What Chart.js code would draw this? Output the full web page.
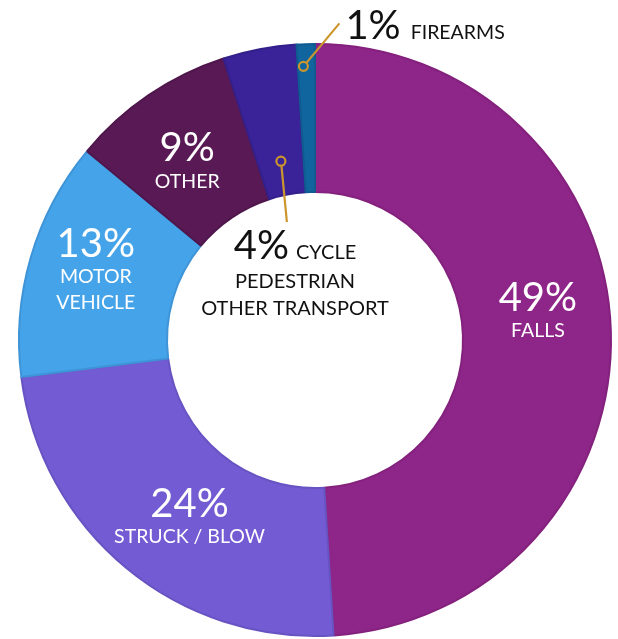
<!DOCTYPE html>
<html>
<head>
<meta charset="utf-8">
<script src="https://cdn.jsdelivr.net/npm/chart.js@4/dist/chart.umd.min.js"></script>
<style>
html,body{margin:0;padding:0;background:#fff;}
#wrap{width:618px;height:639px;position:relative;}
</style>
</head>
<body>
<div id="wrap"><canvas id="c" width="618" height="639"></canvas></div>
<script>
const categories = ["FALLS", "STRUCK / BLOW", "MOTOR VEHICLE", "OTHER", "CYCLE PEDESTRIAN OTHER TRANSPORT", "FIREARMS"];
const values = [49, 24, 13, 9, 4, 1];
const percentLabels = ["49%", "24%", "13%", "9%", "4%", "1%"];
const labelLines = [["FALLS"], ["STRUCK / BLOW"], ["MOTOR", "VEHICLE"], ["OTHER"], ["CYCLE", "PEDESTRIAN", "OTHER TRANSPORT"], ["FIREARMS"]];

const fills = ["#8e2588", "#725bd3", "#45a3e9", "#581955", "#3a2299", "#11659f"];
const borders = ["#83217d", "#6853c2", "#3e94d6", "#4f164c", "#33208a", "#0f5b90"];

const FONT = "Lato, 'Open Sans', sans-serif";

// label placement styles (relative to each slice's mid-angle anchor)
const labelStyle = [
  {mode:"inside", r:0.5, dx:1, pctDy:-22, lineDy:[4]},
  {mode:"inside", r:0.5, dx:16, pctDy:6, lineDy:[32]},
  {mode:"inside", r:0.5, dx:-6, pctDy:-21, lineDy:[5, 31]},
  {mode:"inside", r:0.5, dx:-3, pctDy:5, lineDy:[32]},
  {mode:"center"},
  {mode:"top"}
];

const labelPlugin = {
  id: "sliceLabels",
  afterDatasetsDraw(chart) {
    const ctx = chart.ctx;
    const meta = chart.getDatasetMeta(0);
    const gold = "#cc962c";
    meta.data.forEach((arc, i) => {
      const p = arc.getProps(["x","y","startAngle","endAngle","innerRadius","outerRadius"], true);
      const mid = (p.startAngle + p.endAngle) / 2;
      const st = labelStyle[i];
      ctx.save();
      if (st.mode === "inside") {
        const rr = p.innerRadius + (p.outerRadius - p.innerRadius) * st.r;
        const ax = p.x + Math.cos(mid) * rr + st.dx;
        const ay = p.y + Math.sin(mid) * rr;
        ctx.fillStyle = "#ffffff";
        ctx.textAlign = "center";
        ctx.textBaseline = "alphabetic";
        ctx.font = "400 40px " + FONT;
        ctx.fillText(percentLabels[i], ax, ay + st.pctDy);
        ctx.font = "400 19.5px " + FONT;
        labelLines[i].forEach((t, k) => ctx.fillText(t, ax, ay + st.lineDy[k]));
      } else if (st.mode === "center") {
        const rr = p.outerRadius * 0.615;
        const dx = p.x + Math.cos(mid) * rr;
        const dy = p.y + Math.sin(mid) * rr;
        ctx.strokeStyle = gold; ctx.lineWidth = 2.2;
        ctx.beginPath(); ctx.moveTo(dx + 0.6, dy + 5); ctx.lineTo(dx + 6, p.y - 118); ctx.stroke();
        ctx.beginPath(); ctx.arc(dx, dy, 4.5, 0, Math.PI*2); ctx.stroke();
        const cx = p.x - 20;
        ctx.fillStyle = "#111111";
        ctx.textBaseline = "alphabetic";
        ctx.font = "400 40px " + FONT;
        const pw = ctx.measureText(percentLabels[i]).width;
        ctx.font = "400 20px " + FONT;
        const lw = ctx.measureText(labelLines[i][0]).width;
        const gap = 7;
        const total = pw + gap + lw;
        const left = cx - total / 2;
        ctx.textAlign = "left";
        ctx.font = "400 40px " + FONT;
        ctx.fillText(percentLabels[i], left, p.y - 81);
        ctx.font = "400 20px " + FONT;
        ctx.fillText(labelLines[i][0], left + pw + gap, p.y - 81);
        ctx.textAlign = "center";
        ctx.fillText(labelLines[i][1], cx, p.y - 52);
        ctx.fillText(labelLines[i][2], cx, p.y - 25);
      } else if (st.mode === "top") {
        const rr = p.outerRadius * 0.925;
        const dx = p.x + Math.cos(mid) * rr - 3;
        const dy = p.y + Math.sin(mid) * rr;
        ctx.strokeStyle = gold; ctx.lineWidth = 2.2;
        ctx.beginPath(); ctx.moveTo(dx + 3, dy - 3.5); ctx.lineTo(dx + 36, dy - 43); ctx.stroke();
        ctx.beginPath(); ctx.arc(dx, dy, 4.5, 0, Math.PI*2); ctx.stroke();
        const base = dy - 27;
        ctx.fillStyle = "#111111";
        ctx.textAlign = "left";
        ctx.textBaseline = "alphabetic";
        ctx.font = "400 40px " + FONT;
        const x0 = dx + 42;
        ctx.fillText(percentLabels[i], x0, base);
        const pw = ctx.measureText(percentLabels[i]).width;
        ctx.font = "400 19.5px " + FONT;
        ctx.fillText(labelLines[i][0], x0 + pw + 10, base);
      }
      ctx.restore();
    });
  }
};

new Chart(document.getElementById("c"), {
  type: "doughnut",
  data: {
    labels: categories,
    datasets: [{
      data: values,
      backgroundColor: fills,
      borderColor: borders,
      borderWidth: 2
    }]
  },
  options: {
    responsive: false,
    animation: false,
    cutout: "50%",
    layout: {padding: {left: 18, right: 6, top: 43, bottom: 2}},
    plugins: {legend: {display: false}, tooltip: {enabled: false}}
  },
  plugins: [labelPlugin]
});
</script>
</body>
</html>
